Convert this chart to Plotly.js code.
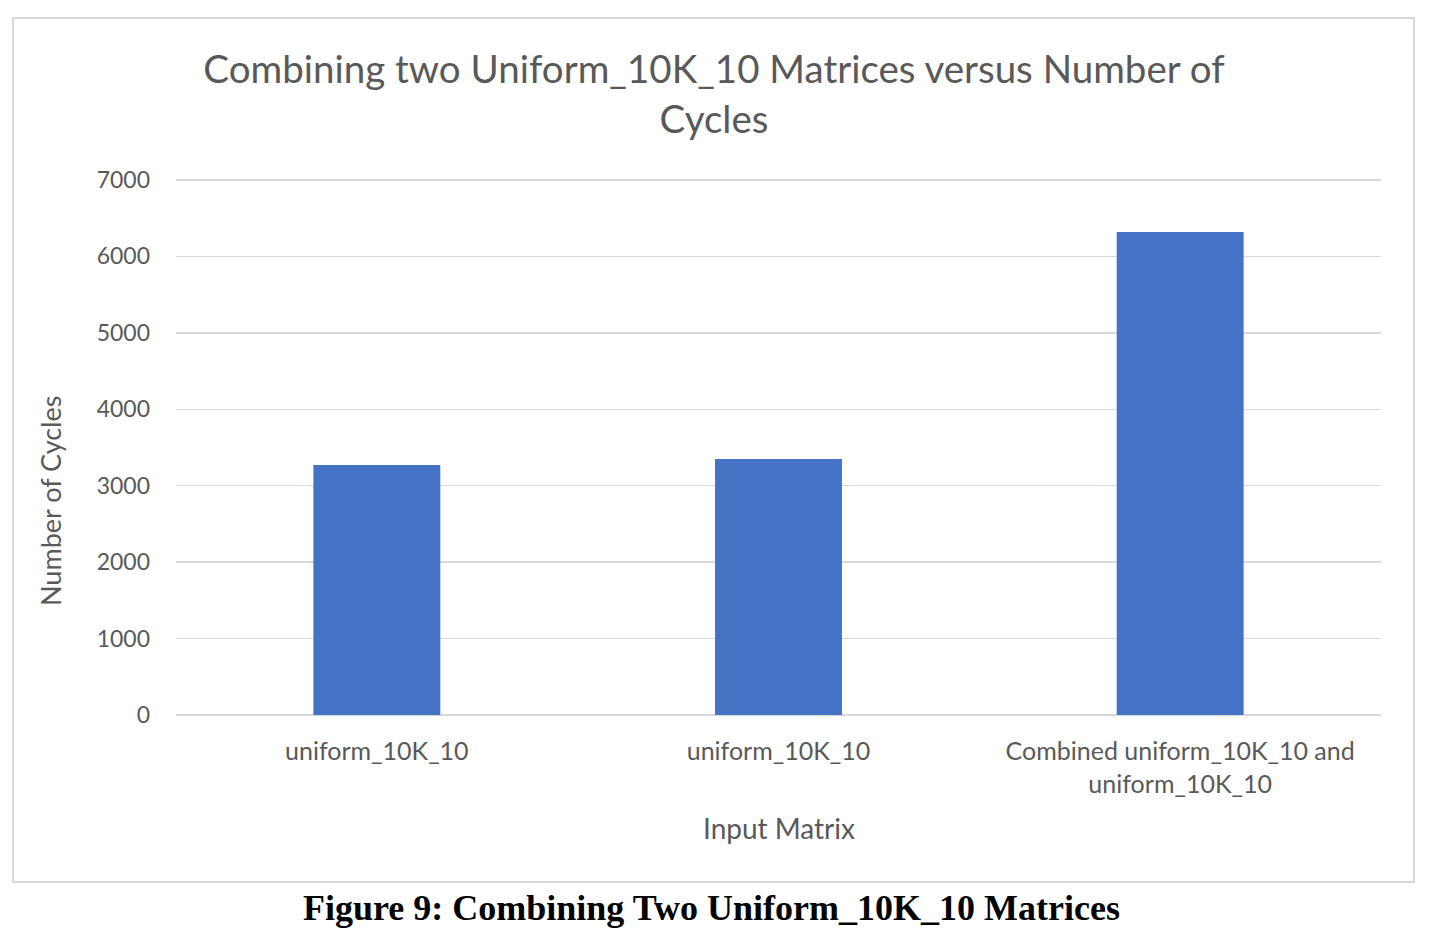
<!DOCTYPE html>
<html>
<head>
<meta charset="utf-8">
<script src="https://cdn.plot.ly/plotly-3.0.1.min.js"></script>
<style>
  html, body { margin: 0; padding: 0; background: #fff; }
  #chart { width: 1440px; height: 952px; }
</style>
</head>
<body>
<div id="chart"></div>
<script>
// data
const categories = ['uniform_10K_10', 'uniform_10K_10', 'Combined uniform_10K_10 and<br>uniform_10K_10'];
const cycles = [3270, 3350, 6320];
const yTicks = [0, 1000, 2000, 3000, 4000, 5000, 6000, 7000];

const FONT = 'Lato, "Open Sans", sans-serif';
const GREY = '#595959';

// the two first labels are the same, so bars sit on index positions
const xPos = categories.map((_, i) => i);

const trace = {
    type: 'bar',
    x: xPos,
    y: cycles,
    marker: { color: '#4472C4', line: { width: 0 } },
    hoverinfo: 'y'
};

// plot area: x 176..1381, y 178..715 (a little head room so the 7000 grid line is kept)
const L = 176, R = 1381, T = 178, B = 715;
const px = x => (x - L) / (R - L);
const py = y => (B - y) / (B - T);
const yTop = 7000 * (B - T) / (B - 180);

const layout = {
    width: 1440,
    height: 952,
    margin: { l: L, r: 1440 - R, t: T, b: 952 - B, autoexpand: false },
    paper_bgcolor: '#fff',
    plot_bgcolor: '#fff',
    showlegend: false,
    bargap: 0.684,
    font: { family: FONT, color: GREY, size: 25 },
    title: {
        text: 'Combining two Uniform_10K_10 Matrices versus Number of<br>Cycles',
        font: { family: FONT, size: 38.5, color: GREY },
        x: 714 / 1440,
        xanchor: 'center',
        xref: 'container',
        yref: 'container',
        y: 1 - 83 / 952,
        yanchor: 'top'
    },
    xaxis: {
        tickmode: 'array',
        tickvals: xPos,
        ticktext: categories,
        range: [-0.5, 2.5],
        showgrid: false,
        zeroline: false,
        showline: false,
        ticks: '',
        ticklabelstandoff: 19,
        tickfont: { family: FONT, size: 25, color: GREY },
        fixedrange: true
    },
    yaxis: {
        range: [0, yTop],
        tickmode: 'array',
        tickvals: yTicks,
        showgrid: true,
        gridcolor: '#d9d9d9',
        gridwidth: 1.5,
        zeroline: true,
        zerolinecolor: '#d9d9d9',
        zerolinewidth: 1.5,
        showline: false,
        ticks: '',
        ticklabelstandoff: 25,
        tickfont: { family: FONT, size: 23, color: GREY },
        fixedrange: true
    },
    shapes: [{
        type: 'rect',
        xref: 'paper', yref: 'paper',
        x0: px(13), x1: px(1414), y0: py(882), y1: py(18),
        line: { color: '#d9d9d9', width: 2 },
        fillcolor: 'rgba(0,0,0,0)',
        layer: 'below'
    }],
    annotations: [{
        // x axis title
        text: 'Input Matrix',
        xref: 'paper', yref: 'paper',
        x: px(779), y: py(828),
        xanchor: 'center', yanchor: 'middle',
        showarrow: false,
        font: { family: FONT, size: 28, color: GREY }
    }, {
        // y axis title
        text: 'Number of Cycles',
        xref: 'paper', yref: 'paper',
        x: px(50), y: py(501),
        xanchor: 'center', yanchor: 'middle',
        textangle: -90,
        showarrow: false,
        font: { family: FONT, size: 27, color: GREY }
    }, {
        text: '<b>Figure 9: Combining Two Uniform_10K_10 Matrices</b>',
        xref: 'paper', yref: 'paper',
        x: px(711), y: py(908),
        xanchor: 'center', yanchor: 'middle',
        showarrow: false,
        font: { family: '"Liberation Serif", "Times New Roman", serif', size: 36, color: '#000' }
    }]
};

Plotly.newPlot('chart', [trace], layout, { displayModeBar: false, staticPlot: true });
</script>
</body>
</html>
